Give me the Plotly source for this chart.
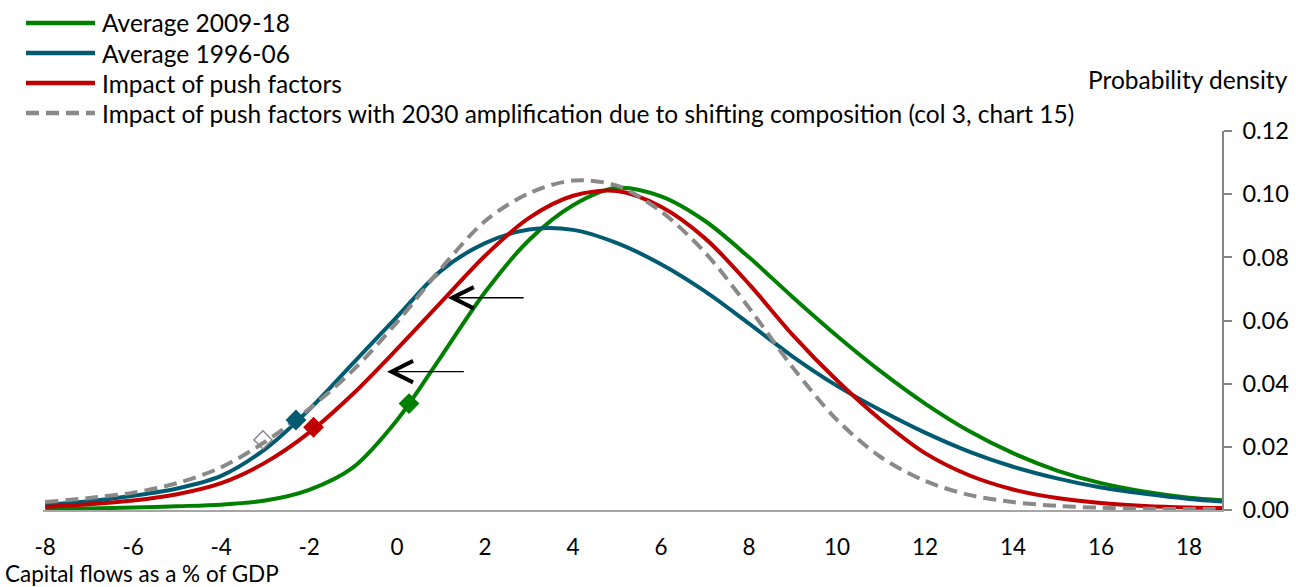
import plotly.graph_objects as go

# ---------------- data ----------------
x_vals = [-8, -7, -6, -5, -4, -3, -2, -1, 0, 1, 2, 3, 4, 5, 6, 7, 8, 9, 10,
          11, 12, 13, 14, 15, 16, 17, 18, 18.75]

avg_2009_18 = [0.0003, 0.0005, 0.0008, 0.0012, 0.0017, 0.0030, 0.0064, 0.0135,
               0.0285, 0.0486, 0.0690, 0.0855, 0.0965, 0.1020, 0.0993, 0.0915,
               0.0800, 0.0673, 0.0551, 0.0438, 0.0337, 0.0250, 0.0180, 0.0125,
               0.0085, 0.0058, 0.0039, 0.0031]

avg_1996_06 = [0.0017, 0.0028, 0.0045, 0.0068, 0.0108, 0.0193, 0.0318, 0.0465,
               0.0612, 0.0758, 0.0845, 0.0888, 0.0887, 0.0845, 0.0778, 0.0692,
               0.0590, 0.0485, 0.0393, 0.0315, 0.0245, 0.0185, 0.0137, 0.0100,
               0.0071, 0.0051, 0.0035, 0.0027]

push_factors = [0.0010, 0.0018, 0.0030, 0.0050, 0.0085, 0.0150, 0.0245, 0.0368,
                0.0510, 0.0658, 0.0805, 0.0925, 0.0995, 0.1010, 0.0960, 0.0860,
                0.0715, 0.0553, 0.0410, 0.0285, 0.0180, 0.0110, 0.0065, 0.0038,
                0.0022, 0.0013, 0.0008, 0.0006]

push_2030 = [0.0025, 0.0038, 0.0055, 0.0085, 0.0135, 0.0216, 0.0320, 0.0443,
             0.0595, 0.0765, 0.0915, 0.1003, 0.1043, 0.1027, 0.0945, 0.0815,
             0.0640, 0.0450, 0.0285, 0.0167, 0.0092, 0.0048, 0.0025, 0.0013,
             0.0007, 0.0004, 0.0003, 0.0003]

series_names = [
    "Average 2009-18",
    "Average 1996-06",
    "Impact of push factors",
    "Impact of push factors with 2030 amplification due to shifting composition (col 3, chart 15)",
]

# highlighted points on each curve
marker_x = [0.27, -2.3, -1.9, -3.05]
marker_y = [0.0337, 0.0285, 0.0262, 0.0222]

# arrows (tail -> head)
arrow_tail_x = [2.91, 1.55]
arrow_head_x = [1.15, -0.23]
arrow_y = [0.0672, 0.0438]

x_ticks = [-8, -6, -4, -2, 0, 2, 4, 6, 8, 10, 12, 14, 16, 18]
y_ticks = [0.00, 0.02, 0.04, 0.06, 0.08, 0.10, 0.12]

# ---------------- styling ----------------
W, H = 1296, 587
ML, MR, MT, MB = 43, 74, 131, 77
PW, PH = W - ML - MR, H - MT - MB
FONT = "Lato"
TXT = 24.5
TICK = 22.5

colors = ["#008000", "#005B70", "#C00000", "#898989"]
dashes = ["solid", "solid", "solid", "13px,7px"]
series = [avg_2009_18, avg_1996_06, push_factors, push_2030]


def px(xp):
    return (xp - ML) / PW


def py(yp):
    return (H - MB - yp) / PH


fig = go.Figure()

for name, ys, c, d in zip(series_names, series, colors, dashes):
    fig.add_trace(go.Scatter(
        x=x_vals, y=ys, mode="lines", name=name,
        line=dict(color=c, width=4, dash=d, shape="spline", smoothing=0.9),
        hoverinfo="skip",
    ))

# markers
for i in range(3):
    fig.add_trace(go.Scatter(
        x=[marker_x[i]], y=[marker_y[i]], mode="markers",
        marker=dict(symbol="diamond", size=16, color=colors[i]),
        showlegend=False, hoverinfo="skip",
    ))
fig.add_trace(go.Scatter(
    x=[marker_x[3]], y=[marker_y[3]], mode="markers",
    marker=dict(symbol="diamond-open", size=14, color=colors[3],
                line=dict(width=1.5, color=colors[3])),
    showlegend=False, hoverinfo="skip",
))

annotations = []
shapes = []

# arrows
for tx, hx, ay in zip(arrow_tail_x, arrow_head_x, arrow_y):
    annotations.append(dict(
        x=hx, y=ay, ax=tx, ay=ay, xref="x", yref="y", axref="x", ayref="y",
        text="", showarrow=True, arrowhead=5, arrowsize=3.0, arrowwidth=1.4,
        arrowcolor="black", standoff=0,
    ))

# manual legend
leg_rows = [23, 53, 83, 113]
for name, c, d, yrow in zip(series_names, colors, dashes, leg_rows):
    shapes.append(dict(
        type="line", xref="paper", yref="paper",
        x0=px(26), x1=px(95), y0=py(yrow), y1=py(yrow),
        line=dict(color=c, width=4.5, dash=d),
    ))
    annotations.append(dict(
        x=px(100), y=py(yrow), xref="paper", yref="paper", text=name,
        showarrow=False, xanchor="left", yanchor="middle",
        font=dict(family=FONT, size=TXT, color="black"),
    ))

annotations.append(dict(
    x=px(1290), y=py(79), xref="paper", yref="paper", text="Probability density",
    showarrow=False, xanchor="right", yanchor="middle",
    font=dict(family=FONT, size=TXT, color="black"),
))
annotations.append(dict(
    x=px(3), y=py(573), xref="paper", yref="paper", text="Capital flows as a % of GDP",
    showarrow=False, xanchor="left", yanchor="middle",
    font=dict(family=FONT, size=22.5, color="black"),
))

fig.update_layout(
    width=W, height=H,
    margin=dict(l=ML, r=MR, t=MT, b=MB, pad=0, autoexpand=False),
    plot_bgcolor="white", paper_bgcolor="white",
    showlegend=False,
    font=dict(family=FONT, size=TXT, color="black"),
    annotations=annotations, shapes=shapes,
    xaxis=dict(
        range=[-8.05, 18.75], tickvals=x_ticks,
        ticktext=[str(v) for v in x_ticks],
        showline=True, linecolor="#A6A6A6", linewidth=1.5,
        ticks="outside", ticklen=16, tickcolor="rgba(0,0,0,0)",
        showgrid=False, zeroline=False, automargin=False,
        tickfont=dict(family=FONT, size=TICK, color="black"),
    ),
    yaxis=dict(
        side="right", range=[0, 0.12], tickvals=y_ticks,
        ticktext=["%.2f" % v for v in y_ticks],
        showline=True, linecolor="#868686", linewidth=1.5,
        ticks="outside", ticklen=8, tickcolor="#868686", tickwidth=1.5,
        ticklabelstandoff=6, automargin=False,
        showgrid=False, zeroline=False,
        tickfont=dict(family=FONT, size=23.5, color="black"),
    ),
)

fig.write_html(
    "out.html",
    config={"displayModeBar": False},
    post_script="document.body.style.margin='0px';document.body.style.overflow='hidden';",
)
